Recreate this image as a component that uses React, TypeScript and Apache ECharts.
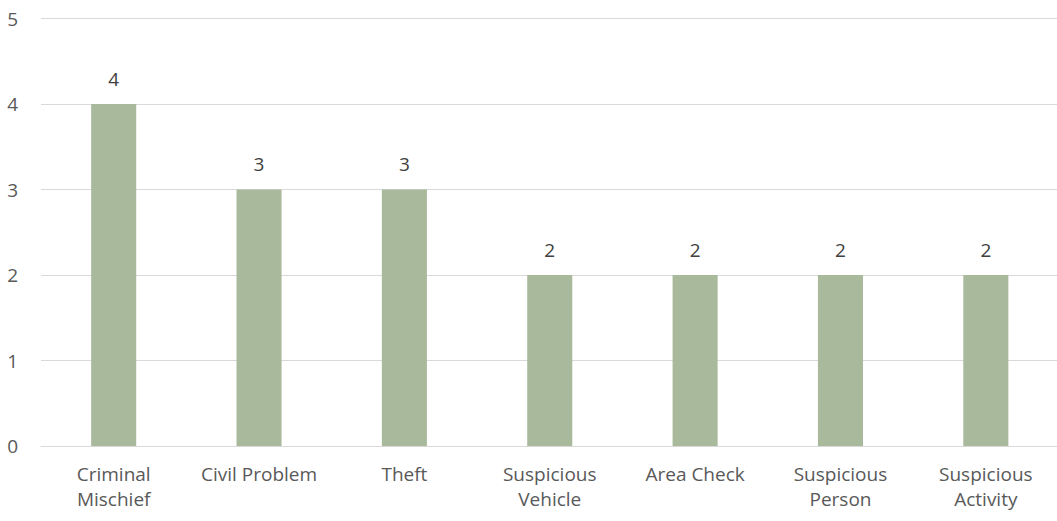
import React, { useEffect, useRef } from "react";
import * as echarts from "echarts";

const categories = [
  "Criminal\nMischief",
  "Civil Problem",
  "Theft",
  "Suspicious\nVehicle",
  "Area Check",
  "Suspicious\nPerson",
  "Suspicious\nActivity",
];
const values = [4, 3, 3, 2, 2, 2, 2];
const yTicks = { min: 0, max: 5, interval: 1 };

export default function App() {
  const ref = useRef<HTMLDivElement>(null);
  useEffect(() => {
    if (!ref.current) return;
    const chart = echarts.init(ref.current, undefined, { renderer: "svg" });
    const font = "'Open Sans', sans-serif";
    chart.setOption({
      animation: false,
      grid: { left: 41, top: 18.5, width: 1017.5, height: 427.5, containLabel: false },
      xAxis: {
        type: "category",
        data: categories,
        axisLine: { lineStyle: { color: "#D9D9D9", width: 1 } },
        axisTick: { show: false },
        axisLabel: {
          color: "#595959",
          fontFamily: font,
          fontSize: 19,
          lineHeight: 25,
          margin: 15,
          interval: 0,
        },
      },
      yAxis: {
        type: "value",
        min: yTicks.min,
        max: yTicks.max,
        interval: yTicks.interval,
        axisLine: { show: false },
        axisTick: { show: false },
        splitLine: { lineStyle: { color: "#D9D9D9", width: 1 } },
        axisLabel: { color: "#595959", fontFamily: font, fontSize: 19, margin: 23 },
      },
      series: [
        {
          type: "bar",
          data: values,
          barWidth: "31%",
          itemStyle: { color: "#A9B99C" },
          label: {
            show: true,
            position: "top",
            distance: 16,
            color: "#404040",
            fontFamily: font,
            fontSize: 19,
          },
        },
      ],
    });
    return () => chart.dispose();
  }, []);
  return (
    <div
      ref={ref}
      style={{ position: "absolute", left: 0, top: 0, width: 1060, height: 521 }}
    />
  );
}
